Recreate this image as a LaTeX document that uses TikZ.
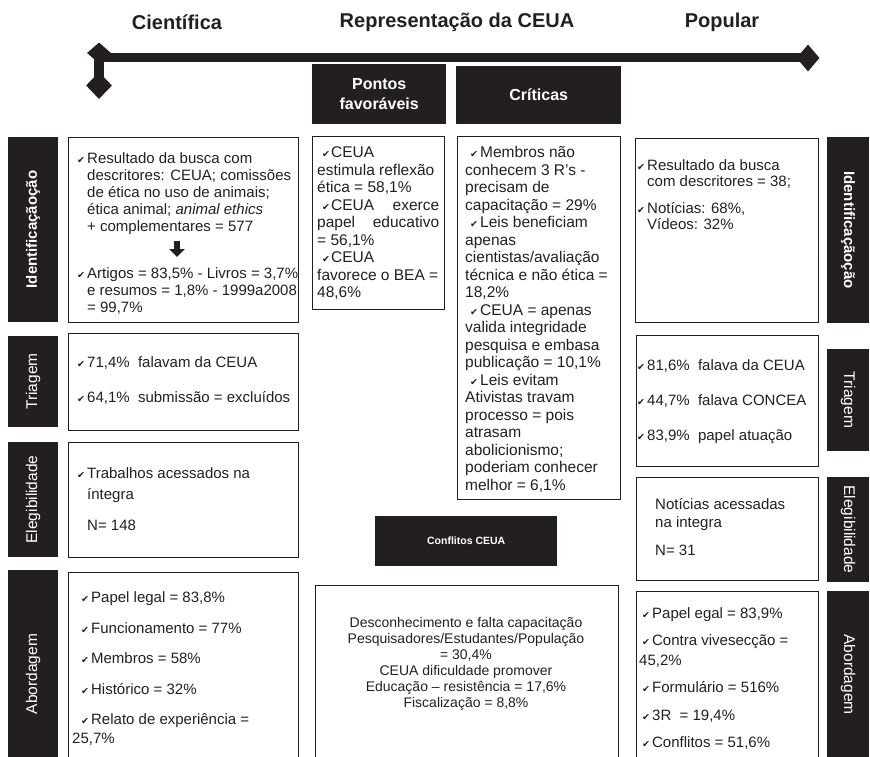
\documentclass[tikz,border=0pt]{standalone}
\usepackage{fontspec}
\setmainfont{Liberation Sans}
\newfontfamily\symfont{DejaVu Sans}
\usetikzlibrary{shapes,arrows.meta,positioning}
\usepackage{xcolor}
\definecolor{ink}{HTML}{231F20}
\newcommand{\chk}{{\symfont\fontsize{9.5}{9.5}\selectfont ✔}}
\newcommand{\hchk}{\llap{\chk\hspace{2pt}}}

\begin{document}
\begin{tikzpicture}[x=1pt, y=-1pt,
  headtitle/.style={font=\fontsize{20}{24}\selectfont\bfseries, text=ink, inner sep=0pt},
  axisbar/.style={ink, line width=9pt},
  tipmark/.style={diamond, fill=ink, inner sep=0pt},
  headbox/.style={fill=ink, text=white, anchor=north west, inner sep=0pt, align=center, font=\fontsize{16}{20}\selectfont\bfseries},
  framebox/.style={draw=ink, line width=0.9pt, anchor=north west, inner sep=0pt},
  tagL/.style={fill=ink, text=white, inner sep=0pt, rotate=90, minimum height=50, font=\fontsize{15.5}{18}\selectfont},
  tagR/.style={fill=ink, text=white, inner sep=0pt, rotate=-90, minimum height=42, font=\fontsize{15.5}{18}\selectfont},
  boxtext/.style={anchor=base west, align=left, inner sep=0pt, text=ink, font=\fontsize{15}{17}\selectfont},
  midtext/.style={boxtext, font=\fontsize{15.5}{17.5}\selectfont},
  downarr/.style={ink, line width=6pt, -{Triangle[width=15pt, length=8pt]}}
]
\useasboundingbox (0,0) rectangle (870,757);
\clip (0,0) rectangle (870,757);

\node[headtitle] (cient) at (177,22) {Científica};
\node[headtitle] (repr) at (457,22) {Representação da CEUA};
\node[headtitle] (popu) at (722,22) {Popular};

\coordinate (barL) at (99,57.5);
\coordinate (barR) at (808,57.5);
\draw[axisbar] (barL) -- (barR);
\node[tipmark, minimum width=24, minimum height=21] (dTop) at (99,53) {};
\node[tipmark, minimum width=26, minimum height=27] (dLow) at (99,85.5) {};
\node[tipmark, minimum width=23, minimum height=27] (dEnd) at (808,58) {};
\draw[axisbar, line width=10pt] (dTop.center) -- (dLow.center);

\node[headbox, minimum width=134, minimum height=60] (pontosH) at (312,64) {Pontos\\favoráveis};
\node[headbox, minimum width=165, minimum height=58] (critH) at (456,66) {Críticas};

% coluna cientifica (texto ancorado na ultima linha)
\node[tagL, minimum width=185, font=\fontsize{15}{18}\selectfont\bfseries] (idTagL) at (33,229.5) {Identificaçãoção};
\node[framebox, minimum width=230, minimum height=185] (idBoxL) at (68,137) {};
\node[boxtext] (idTxtA) at (87,231.5) {\hchk Resultado da busca com\\ descritores: CEUA; comissões\\ de ética no uso de animais;\\ ética animal; \textit{animal ethics}\\ + complementares = 577};
\coordinate (arrTop) at (177,241);
\coordinate (arrBot) at (177,257);
\draw[downarr] (arrTop) -- (arrBot);
\node[boxtext] (idTxtB) at (87,312) {\hchk Artigos = 83,5\% - Livros = 3,7\%\\ e resumos = 1,8\% - 1999a2008\\ = 99,7\%};

\node[tagL, minimum width=91] (triTagL) at (33,381.5) {Triagem};
\node[framebox, minimum width=230, minimum height=97] (triBoxL) at (68,333) {};
\node[boxtext] (triTxtL) at (87,402.5) {\hchk 71,4\%\ \ falavam da CEUA\\[18pt] \hchk 64,1\%\ \ submissão = excluídos};

\node[tagL, minimum width=115] (eleTagL) at (33,499.5) {Elegibilidade};
\node[framebox, minimum width=230, minimum height=115] (eleBoxL) at (68,442) {};
\node[boxtext] (eleTxtL) at (87,530) {\hchk Trabalhos acessados na\\[3.5pt] íntegra\\[14pt] N= 148};

\node[tagL, minimum width=208] (aboTagL) at (33,674) {Abordagem};
\node[framebox, minimum width=230, minimum height=200] (aboBoxL) at (68,572) {};
\node[boxtext] (aboTxtL) at (72,743.5) {\hspace*{9pt}\chk\hspace{2pt}Papel legal = 83,8\%\\[13.5pt] \hspace*{9pt}\chk\hspace{2pt}Funcionamento = 77\%\\[13.5pt] \hspace*{9pt}\chk\hspace{2pt}Membros = 58\%\\[13.5pt] \hspace*{9pt}\chk\hspace{2pt}Histórico = 32\%\\[13.5pt] \hspace*{9pt}\chk\hspace{2pt}Relato de experiência =\\[2pt] 25,7\%};

% coluna do meio
\node[framebox, minimum width=132, minimum height=173] (pontosBox) at (312,136) {};
\node[midtext] (pontosTxt) at (317,297.5) {\hspace*{5pt}\chk\hspace{1pt}CEUA\\ estimula reflexão\\ ética = 58,1\%\\ \makebox[122pt][s]{\hspace*{5pt}\chk\hspace{1pt}CEUA exerce}\\ \makebox[122pt][s]{papel educativo}\\ = 56,1\%\\ \hspace*{5pt}\chk\hspace{1pt}CEUA\\ favorece o BEA =\\ 48,6\%};

\node[framebox, minimum width=163, minimum height=363] (critBox) at (457,136) {};
\node[midtext] (critTxt) at (465,490) {\hspace*{5pt}\chk\hspace{2pt}Membros não\\ conhecem 3 R's -\\ precisam de\\ capacitação = 29\%\\ \hspace*{5pt}\chk\hspace{2pt}Leis beneficiam\\ apenas\\ cientistas/avaliação\\ técnica e não ética =\\ 18,2\%\\ \hspace*{5pt}\chk\hspace{2pt}CEUA = apenas\\ valida integridade\\ pesquisa e embasa\\ publicação = 10,1\%\\ \hspace*{5pt}\chk\hspace{2pt}Leis evitam\\ Ativistas travam\\ processo = pois\\ atrasam\\ abolicionismo;\\ poderiam conhecer\\ melhor = 6,1\%};

\node[headbox, minimum width=182, minimum height=50, font=\fontsize{10.5}{12}\selectfont\bfseries] (confH) at (375,516) {Conflitos CEUA};
\node[framebox, minimum width=303, minimum height=190] (confBox) at (315,585) {};
\node[anchor=base, align=center, inner sep=0pt, text=ink, font=\fontsize{14}{16}\selectfont] (confTxt) at (466,707) {Desconhecimento e falta capacitação\\ Pesquisadores/Estudantes/População\\ = 30,4\%\\ CEUA dificuldade promover\\ Educação – resistência = 17,6\%\\ Fiscalização = 8,8\%};

% coluna popular
\node[framebox, minimum width=183, minimum height=184] (idBoxR) at (635,138) {};
\node[tagR, minimum width=186, font=\fontsize{15}{18}\selectfont\bfseries] (idTagR) at (848,230) {Identificaçãoção};
\node[boxtext] (idTxtR) at (647,229.5) {\hchk Resultado da busca\\[-1pt] com descritores = 38;\\[10.5pt] \hchk Notícias: 68\%,\\[-1pt] Vídeos: 32\%};

\node[framebox, minimum width=182, minimum height=131] (triBoxR) at (636,335) {};
\node[tagR, minimum width=102] (triTagR) at (848,400) {Triagem};
\node[boxtext] (triTxtR) at (647,440.5) {\hchk 81,6\%\ \ falava da CEUA\\[18pt] \hchk 44,7\%\ \ falava CONCEA\\[18pt] \hchk 83,9\%\ \ papel atuação};

\node[framebox, minimum width=182, minimum height=103] (eleBoxR) at (636,477) {};
\node[tagR, minimum width=105] (eleTagR) at (848,529.5) {Elegibilidade};
\node[boxtext] (eleTxtR) at (655,555.5) {Notícias acessadas\\[1pt] na integra\\[11pt] N= 31};

\node[framebox, minimum width=182, minimum height=185] (aboBoxR) at (636,591) {};
\node[tagR, minimum width=167] (aboTagR) at (848,674.5) {Abordagem};
\node[boxtext] (aboTxtR) at (639,747.5) {\hspace*{3pt}\chk\hspace{2pt}Papel egal = 83,9\%\\[10pt] \hspace*{3pt}\chk\hspace{2pt}Contra vivesecção =\\[3pt] 45,2\%\\[10pt] \hspace*{3pt}\chk\hspace{2pt}Formulário = 516\%\\[11pt] \hspace*{3pt}\chk\hspace{2pt}3R\ \ = 19,4\%\\[10pt] \hspace*{3pt}\chk\hspace{2pt}Conflitos = 51,6\%};
\end{tikzpicture}
\end{document}
